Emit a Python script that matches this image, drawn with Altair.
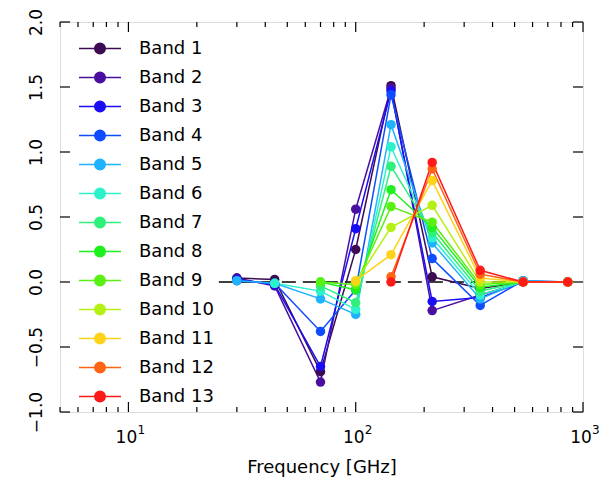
import altair as alt
import pandas as pd

# Frequency channels (GHz)
freqs = [30, 44, 70, 100, 143, 217, 353, 545, 857]

band_names = [f"Band {i}" for i in range(1, 14)]
band_colors = [
    "#3d0b52", "#4a0f9e", "#1a0cf5", "#0f4cff", "#1fb2ff", "#2cf2cc", "#2ef07a",
    "#1ff01f", "#5af014", "#b4f014", "#ffd21a", "#ff6414", "#ff1a1a",
]

# Weights per band at each frequency (None = channel not used)
band1 = [0.03, 0.02, -0.69, 0.25, 1.51, 0.04, -0.05, 0.00, 0.00]
band2 = [0.03, -0.03, -0.77, 0.56, 1.49, -0.22, -0.10, 0.00, 0.00]
band3 = [0.02, -0.02, -0.65, 0.41, 1.47, -0.15, -0.12, 0.00, 0.00]
band4 = [0.01, -0.01, -0.38, -0.06, 1.44, 0.18, -0.18, 0.01, 0.00]
band5 = [0.01, -0.01, -0.13, -0.25, 1.21, 0.30, -0.13, 0.01, 0.00]
band6 = [None, -0.01, -0.07, -0.21, 1.04, 0.34, -0.10, 0.00, 0.00]
band7 = [None, None, -0.03, -0.16, 0.89, 0.38, -0.07, 0.00, 0.00]
band8 = [None, None, 0.00, -0.06, 0.71, 0.42, -0.04, 0.00, 0.00]
band9 = [None, None, 0.00, -0.02, 0.58, 0.46, -0.02, 0.00, 0.00]
band10 = [None, None, None, 0.00, 0.42, 0.59, 0.00, 0.00, 0.00]
band11 = [None, None, None, 0.01, 0.21, 0.78, 0.03, 0.00, 0.00]
band12 = [None, None, None, None, 0.04, 0.87, 0.06, 0.00, 0.00]
band13 = [None, None, None, None, 0.00, 0.92, 0.09, 0.00, 0.00]
bands = [band1, band2, band3, band4, band5, band6, band7, band8, band9,
         band10, band11, band12, band13]

# Axis ticks and labels
x_major = [10, 100, 1000]
x_label_base = ["10", "10", "10"]
x_label_exp = ["1", "2", "3"]
x_minor = [5, 6, 7, 8, 9, 20, 30, 40, 50, 60, 70, 80, 90,
           200, 300, 400, 500, 600, 700, 800, 900]
y_major = [-1.0, -0.5, 0.0, 0.5, 1.0, 1.5, 2.0]

# Dashed zero reference line extent (GHz)
zero_from, zero_to = 25, 857

FONT = "DejaVu Sans"
W, H = 523, 390

rows = []
for k, (name, vals) in enumerate(zip(band_names, bands)):
    for f, v in zip(freqs, vals):
        if v is not None:
            rows.append({"freq": f, "value": v, "band": name, "k": k})
df = pd.DataFrame(rows)

xs = alt.Scale(type="log", domain=[5, 1000], nice=False)
ys = alt.Scale(domain=[-1, 2], nice=False, zero=False)
cs = alt.Scale(domain=band_names, range=band_colors)

x_axis = alt.Axis(
    values=x_major, labels=False,
    ticks=False, tickSize=0, domain=False, grid=False,
    title="Frequency [GHz]", titleFont=FONT, titleFontSize=18,
    titleFontWeight="normal", titleColor="black", titlePadding=46,
)
y_axis = alt.Axis(
    values=y_major, format=".1f",
    ticks=False, tickSize=0, domain=False, grid=False,
    labelFont=FONT, labelFontSize=17, labelColor="black", labelPadding=15,
    labelAngle=270, labelAlign="center", labelBaseline="bottom",
    labelFlush=False, labelOverlap=False, title=None,
)

# Legend symbol: short line with a filled dot in the middle
sym_path = ("M-1,0L1,0M-0.25,0A0.25,0.25,0,1,1,0.25,0"
            "A0.25,0.25,0,1,1,-0.25,0Z")
legend = alt.Legend(
    title=None, orient="none", legendX=18, legendY=12, padding=0,
    symbolType=sym_path, symbolSize=1764, symbolStrokeWidth=1.5,
    symbolOpacity=1,
    clipHeight=29, rowPadding=0, labelOffset=17,
    labelFont=FONT, labelFontSize=18, labelColor="black",
)

base = alt.Chart(df)

lines = base.mark_line(strokeWidth=1.5).encode(
    x=alt.X("freq:Q", scale=xs, axis=x_axis),
    y=alt.Y("value:Q", scale=ys, axis=y_axis),
    color=alt.Color("band:N", scale=cs, legend=legend),
    detail="band:N",
    order="freq:Q",
)

points = base.mark_circle(size=90, opacity=1).encode(
    x=alt.X("freq:Q", scale=xs),
    y=alt.Y("value:Q", scale=ys),
    color=alt.Color("band:N", scale=cs, legend=legend),
    order="k:Q",
)

zero_line = alt.Chart(pd.DataFrame({"a": [zero_from], "b": [zero_to], "y": [0.0]})).mark_rule(
    color="black", strokeWidth=1.3, strokeDash=[14, 7]
).encode(x=alt.X("a:Q", scale=xs), x2="b:Q", y=alt.Y("y:Q", scale=ys))

# Power-of-ten tick labels with raised exponents
lab = pd.DataFrame({"v": x_major, "base": x_label_base, "exp": x_label_exp})
lab_base = alt.Chart(lab).mark_text(
    font=FONT, fontSize=17, color="black", align="center", baseline="middle", dx=-2
).encode(x=alt.X("v:Q", scale=xs), y=alt.value(H + 26), text="base:N")
lab_exp = alt.Chart(lab).mark_text(
    font=FONT, fontSize=12, color="black", align="left", baseline="middle", dx=9, dy=-8
).encode(x=alt.X("v:Q", scale=xs), y=alt.value(H + 26), text="exp:N")

xmaj = pd.DataFrame({"v": x_major})
xmin = pd.DataFrame({"v": x_minor})
ymaj = pd.DataFrame({"v": y_major})
tick_style = dict(color="black", strokeWidth=1.2)

def xticks(d, length):
    bottom = alt.Chart(d).mark_rule(**tick_style).encode(
        x=alt.X("v:Q", scale=xs), y=alt.value(H), y2=alt.value(H - length))
    top = alt.Chart(d).mark_rule(**tick_style).encode(
        x=alt.X("v:Q", scale=xs), y=alt.value(0), y2=alt.value(length))
    return [bottom, top]

def yticks(d, length):
    left = alt.Chart(d).mark_rule(**tick_style).encode(
        y=alt.Y("v:Q", scale=ys), x=alt.value(0), x2=alt.value(length))
    right = alt.Chart(d).mark_rule(**tick_style).encode(
        y=alt.Y("v:Q", scale=ys), x=alt.value(W), x2=alt.value(W - length))
    return [left, right]

layers = ([zero_line, lines, points, lab_base, lab_exp]
          + xticks(xmaj, 10) + xticks(xmin, 5) + yticks(ymaj, 10))

chart = alt.layer(*layers).properties(
    width=W, height=H,
    autosize=alt.AutoSizeParams(type="none"),
    padding={"left": 60, "top": 22, "right": 29, "bottom": 70},
).configure_view(stroke="black", strokeWidth=1.5).configure(background="white")

chart.save("out.html", embed_options={"renderer": "svg", "actions": False})
